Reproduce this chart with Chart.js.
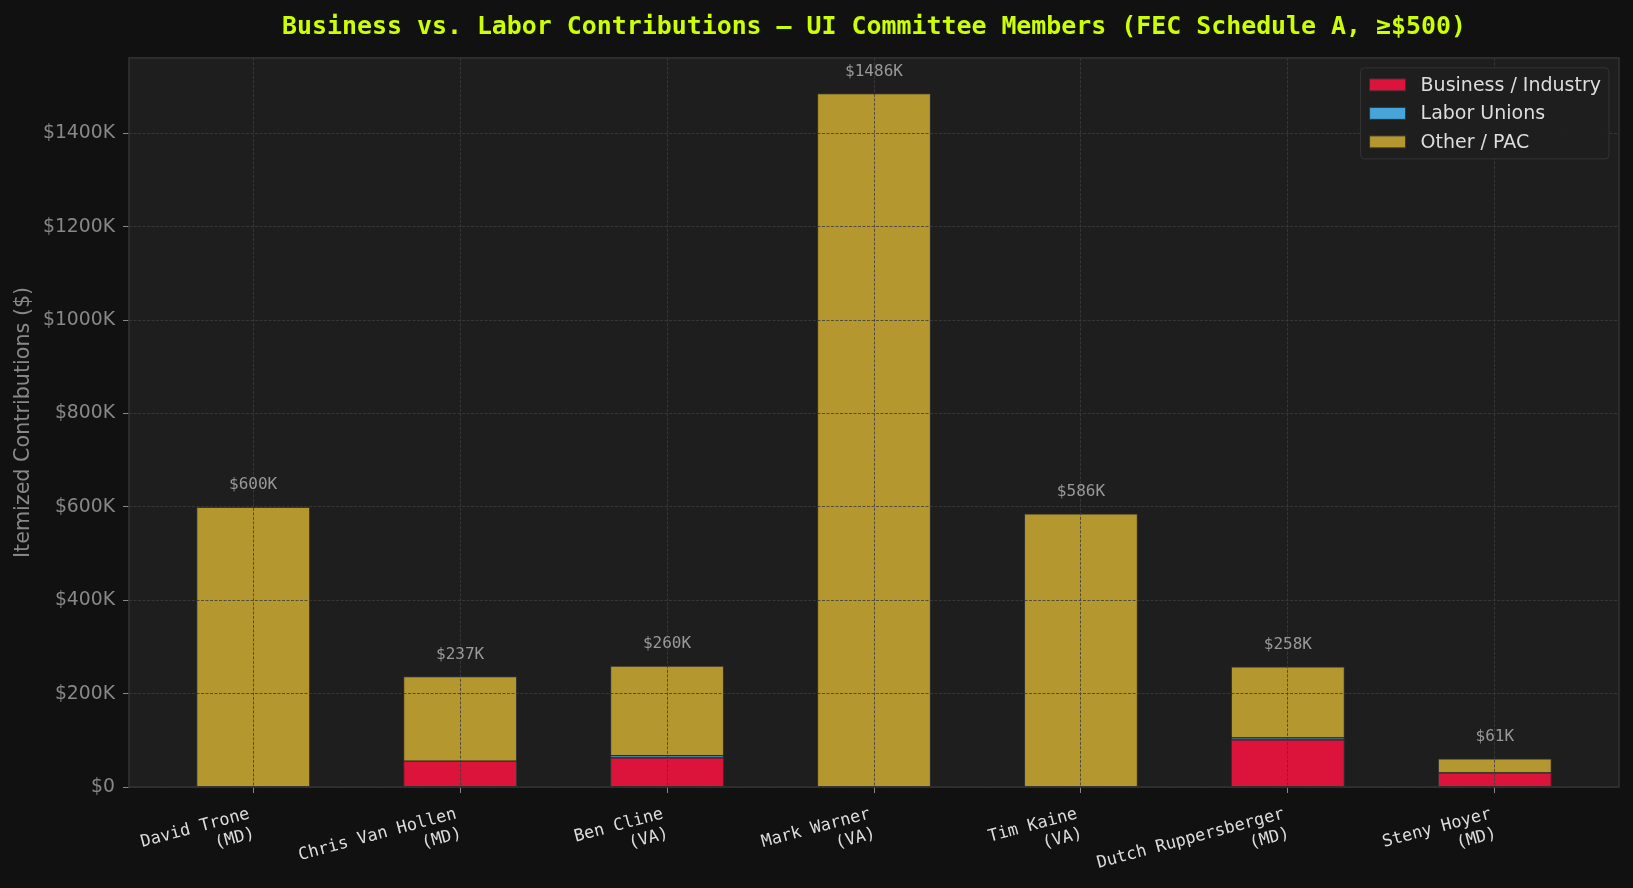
<!DOCTYPE html>
<html>
<head>
<meta charset="utf-8">
<script src="https://cdn.jsdelivr.net/npm/chart.js@4.4.1/dist/chart.umd.min.js"></script>
<style>
  html, body { margin: 0; padding: 0; background: #111111; }
  #wrap { width: 1633px; height: 888px; }
</style>
</head>
<body>
<div id="wrap"><canvas id="chart" width="1633" height="888"></canvas></div>
<script>
// data
const members = ["David Trone", "Chris Van Hollen", "Ben Cline", "Mark Warner", "Tim Kaine", "Dutch Ruppersberger", "Steny Hoyer"];
const states = ["MD", "MD", "VA", "VA", "VA", "MD", "MD"];
const business = [0, 56000, 63000, 0, 0, 102000, 31000];
const labor = [0, 0, 5000, 0, 0, 4000, 0];
const otherPac = [600000, 181000, 192000, 1486000, 586000, 152000, 30000];
const yTickValues = [0, 200000, 400000, 600000, 800000, 1000000, 1200000, 1400000];
const seriesNames = ["Business / Industry", "Labor Unions", "Other / PAC"];
const seriesColors = ["#dc143c", "#47a5d9", "#b5972f"];
const chartTitle = "Business vs. Labor Contributions \u2014 UI Committee Members (FEC Schedule A, \u2265$500)";
const yTitle = "Itemized Contributions ($)";

function points(arr) {
  return arr.map((v, i) => ({ x: i, y: v }));
}

// background + plot area
const backdrop = {
  id: "backdrop",
  beforeDraw(chart) {
    const { ctx, chartArea: a } = chart;
    ctx.save();
    ctx.fillStyle = "#111111";
    ctx.fillRect(0, 0, chart.width, chart.height);
    ctx.fillStyle = "#1e1e1e";
    ctx.fillRect(a.left, a.top, a.right - a.left, a.bottom - a.top);
    ctx.restore();
  }
};

// frame, total labels and legend on top
const overlay = {
  id: "overlay",
  afterDraw(chart) {
    const { ctx, chartArea: a } = chart;
    const xs = chart.scales.x, ys = chart.scales.y;
    const sets = chart.data.datasets;
    ctx.save();

    ctx.strokeStyle = "#333333";
    ctx.lineWidth = 1.5;
    ctx.strokeRect(a.left, a.top, a.right - a.left, a.bottom - a.top);

    // totals above bars
    ctx.font = '16px "DejaVu Sans Mono"';
    ctx.fillStyle = "#999999";
    ctx.textAlign = "center";
    ctx.textBaseline = "bottom";
    members.forEach((m, i) => {
      const total = sets.reduce((s, d) => s + d.data[i].y, 0);
      const x = xs.getPixelForValue(i);
      const y = ys.getPixelForValue(total + 30000);
      ctx.fillText("$" + Math.round(total / 1000) + "K", x, y);
    });

    // legend
    ctx.font = '19px "DejaVu Sans"';
    const textW = Math.max(...sets.map(d => ctx.measureText(d.label).width));
    const w = 9 + 36 + 15 + textW + 8;
    const h = 91;
    const bx = a.right - 10 - w, by = a.top + 10;
    ctx.beginPath();
    ctx.roundRect(bx, by, w, h, 4);
    ctx.fillStyle = "rgba(30,30,30,0.9)";
    ctx.fill();
    ctx.strokeStyle = "#333333";
    ctx.lineWidth = 1;
    ctx.stroke();
    ctx.textAlign = "left";
    ctx.textBaseline = "middle";
    sets.forEach((d, k) => {
      const cy = by + 17 + k * 28.5;
      ctx.fillStyle = d.backgroundColor;
      ctx.fillRect(bx + 9, cy - 6, 36, 12);
      ctx.strokeStyle = "#333333";
      ctx.strokeRect(bx + 9, cy - 6, 36, 12);
      ctx.fillStyle = "#dddddd";
      ctx.fillText(d.label, bx + 9 + 36 + 15, cy + 1);
    });
    ctx.restore();
  }
};

const gridStyle = {
  offset: false,
  z: 1,
  color: "rgba(60,60,60,0.8)",
  lineWidth: 1,
  tickLength: 6,
  tickColor: "#888888",
  tickBorderDash: [],
  tickWidth: 1
};
const borderStyle = { display: false, dash: [3, 1.5] };

new Chart(document.getElementById("chart"), {
  type: "bar",
  data: {
    datasets: [
      { label: seriesNames[0], data: points(business), backgroundColor: seriesColors[0] },
      { label: seriesNames[1], data: points(labor), backgroundColor: seriesColors[1] },
      { label: seriesNames[2], data: points(otherPac), backgroundColor: seriesColors[2] }
    ]
  },
  plugins: [backdrop, overlay],
  options: {
    responsive: false,
    animation: false,
    devicePixelRatio: 1,
    layout: { padding: { left: 0, right: 14, top: 0, bottom: 0 } },
    datasets: {
      bar: { barPercentage: 0.55, categoryPercentage: 1, borderColor: "#333333", borderWidth: 1 }
    },
    plugins: {
      legend: { display: false },
      tooltip: { enabled: false },
      title: {
        display: true,
        fullSize: false,
        text: chartTitle,
        color: "#ccff00",
        font: { family: "DejaVu Sans Mono", size: 24.9, weight: "bold", lineHeight: 1.2 },
        padding: { top: 13, bottom: 15 }
      }
    },
    scales: {
      x: {
        type: "linear",
        offset: false,
        stacked: true,
        min: -0.6,
        max: 6.6,
        z: 1,
        afterFit: s => { s.height = 101; },
        afterBuildTicks: s => { s.ticks = members.map((m, i) => ({ value: i })); },
        grid: gridStyle,
        border: borderStyle,
        ticks: {
          autoSkip: false,
          minRotation: 15,
          maxRotation: 15,
          padding: 11,
          labelOffset: -4,
          color: "#dddddd",
          font: { family: "DejaVu Sans Mono", size: 16.9 },
          callback: (v, i) => [members[i], "(" + states[i] + ")"]
        }
      },
      y: {
        stacked: true,
        min: 0,
        max: 1562000,
        z: 1,
        afterFit: s => { s.width = 129; },
        afterBuildTicks: s => { s.ticks = yTickValues.map(v => ({ value: v })); },
        grid: gridStyle,
        border: borderStyle,
        title: {
          display: true,
          text: yTitle,
          color: "#888888",
          font: { family: "DejaVu Sans", size: 20.7, lineHeight: 1.2 },
          padding: { top: 11, bottom: 0 }
        },
        ticks: {
          padding: 8,
          color: "#888888",
          font: { family: "DejaVu Sans", size: 18.8 },
          callback: v => (v === 0 ? "$0" : "$" + v / 1000 + "K")
        }
      }
    }
  }
});
</script>
</body>
</html>
